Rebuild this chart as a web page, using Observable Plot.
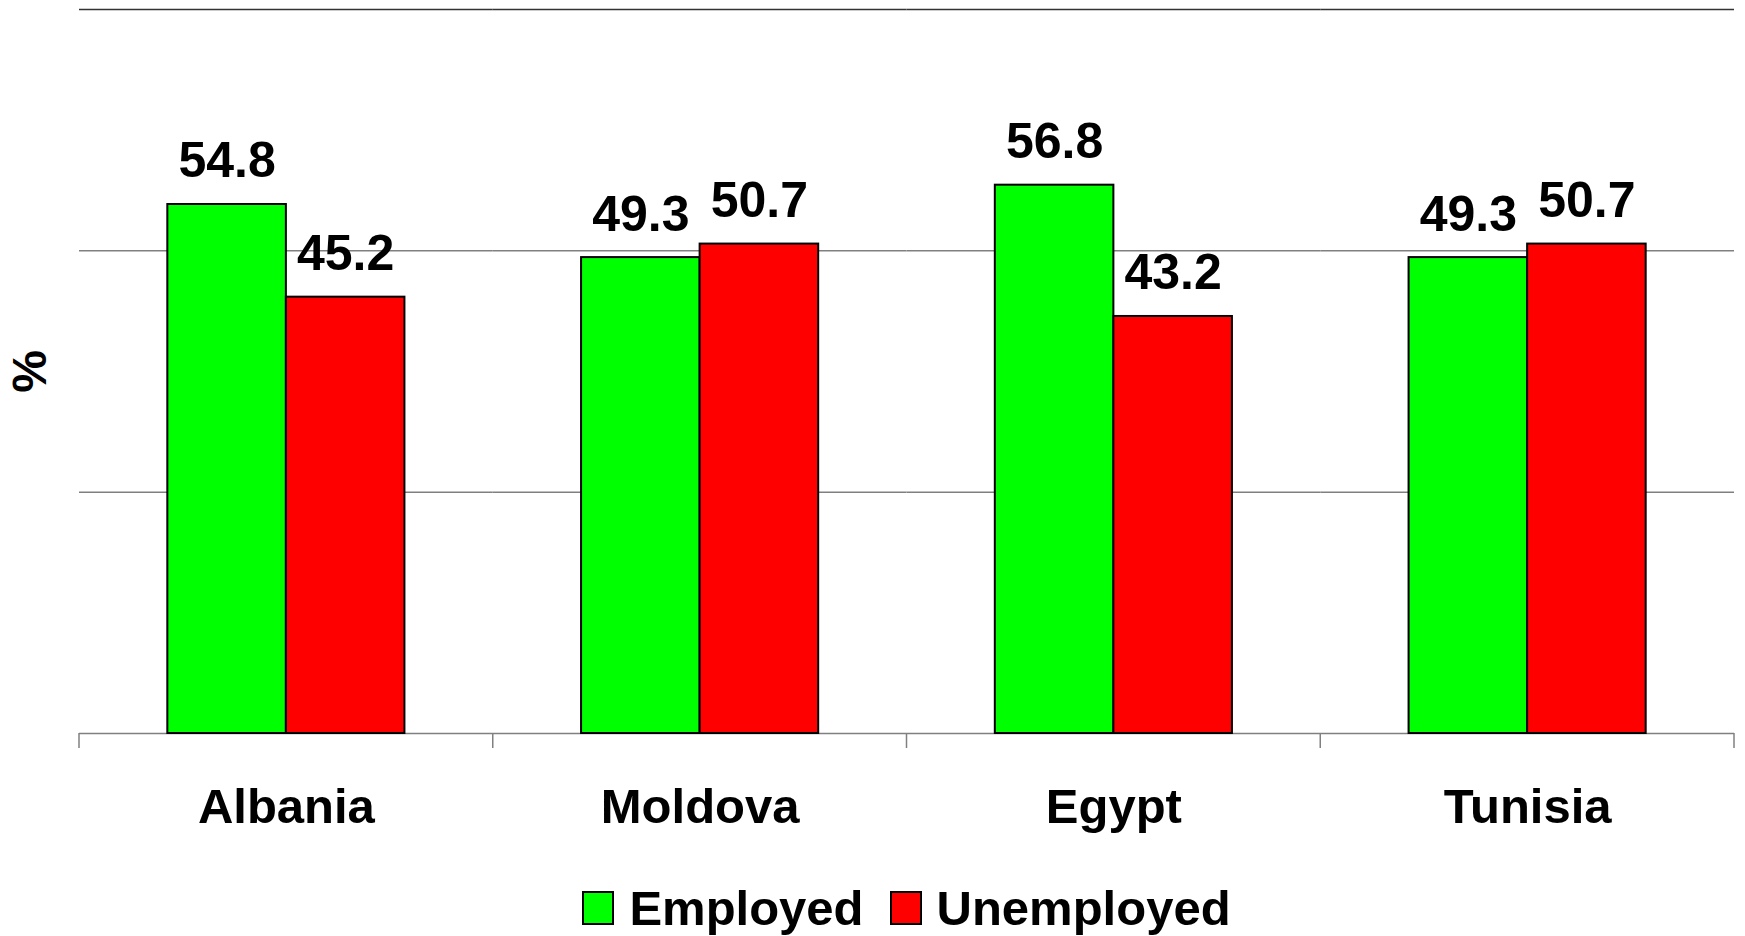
<!DOCTYPE html>
<html>
<head>
<meta charset="utf-8">
<script src="https://cdn.jsdelivr.net/npm/d3@7"></script>
<script src="https://cdn.jsdelivr.net/npm/@observablehq/plot@0.6"></script>
<style>
  html, body { margin: 0; padding: 0; background: #fff; }
  body { width: 1745px; height: 936px; overflow: hidden; position: relative;
         font-family: "Liberation Sans", Arial, sans-serif; }
  #legend { position: absolute; left: 34px; width: 1745px; top: 884px; height: 48px;
            display: flex; justify-content: center; align-items: center;
            font-size: 49px; font-weight: bold; color: #000; }
  .item { display: flex; align-items: center; }
  .item + .item { margin-left: 26px; }
  .sw { width: 28px; height: 30px; border: 2px solid #000; margin-right: 15px; }
</style>
</head>
<body>
<div id="chart"></div>
<div id="legend"></div>
<script>
const countries = ["Albania", "Moldova", "Egypt", "Tunisia"];
const series = ["Employed", "Unemployed"];
const employed = [54.8, 49.3, 56.8, 49.3];
const unemployed = [45.2, 50.7, 43.2, 50.7];
const colors = ["#00ff00", "#ff0000"];
const yDomain = [0, 75];
const gridTicks = [0, 25, 50];
const topTick = [75];

const data = countries.flatMap((c, i) => [
  {country: c, series: series[0], value: employed[i]},
  {country: c, series: series[1], value: unemployed[i]}
]);

const plot = Plot.plot({
  width: 1745,
  height: 870,
  marginTop: 9,
  marginBottom: 137,
  marginLeft: 79,
  marginRight: 11,
  style: {fontFamily: "Liberation Sans, Arial, sans-serif", background: "white", color: "black"},
  fx: {domain: countries, padding: 0, round: false, label: null},
  x: {domain: series, paddingInner: 0, paddingOuter: 0.745, round: false, axis: null},
  y: {domain: yDomain},
  color: {domain: series, range: colors},
  marks: [
    Plot.ruleY(gridTicks, {stroke: "#808080", strokeWidth: 1.5}),
    Plot.ruleY(topTick, {stroke: "#333", strokeWidth: 1.5}),
    Plot.barY(data, {fx: "country", x: "series", y: "value", fill: "series", stroke: "black", strokeWidth: 2}),
    Plot.text(data, {fx: "country", x: "series", y: "value", text: d => d.value.toFixed(1),
      lineAnchor: "bottom", dy: -27, fontSize: 50, fontWeight: "bold", fill: "black"}),
    Plot.axisFx({anchor: "bottom", tickSize: 0, tickPadding: 55, fontSize: 49, fontWeight: "bold", label: null}),
    Plot.axisY({ticks: [], tickSize: 0, label: "%", labelAnchor: "center", labelArrow: "none", labelOffset: 68, fontSize: 48, fontWeight: "bold"})
  ]
});
document.getElementById("chart").appendChild(plot);

// separator ticks at facet band boundaries, from the fx scale
const fx = plot.scale("fx");
const y = plot.scale("y");
const edges = countries.map(c => fx.apply(c));
edges.push(fx.apply(countries[countries.length - 1]) + fx.step);
const y0 = y.apply(0);
const svg = d3.select(plot.tagName.toLowerCase() === "svg" ? plot : plot.querySelector("svg"));
svg.append("g").selectAll("line").data(edges).join("line")
  .attr("x1", d => d).attr("x2", d => d)
  .attr("y1", y0).attr("y2", y0 + 15)
  .attr("stroke", "#808080").attr("stroke-width", 1.5);

// legend
const legend = d3.select("#legend");
series.forEach((s, i) => {
  const it = legend.append("div").attr("class", "item");
  it.append("div").attr("class", "sw").style("background", colors[i]);
  it.append("span").text(s);
});
</script>
</body>
</html>
